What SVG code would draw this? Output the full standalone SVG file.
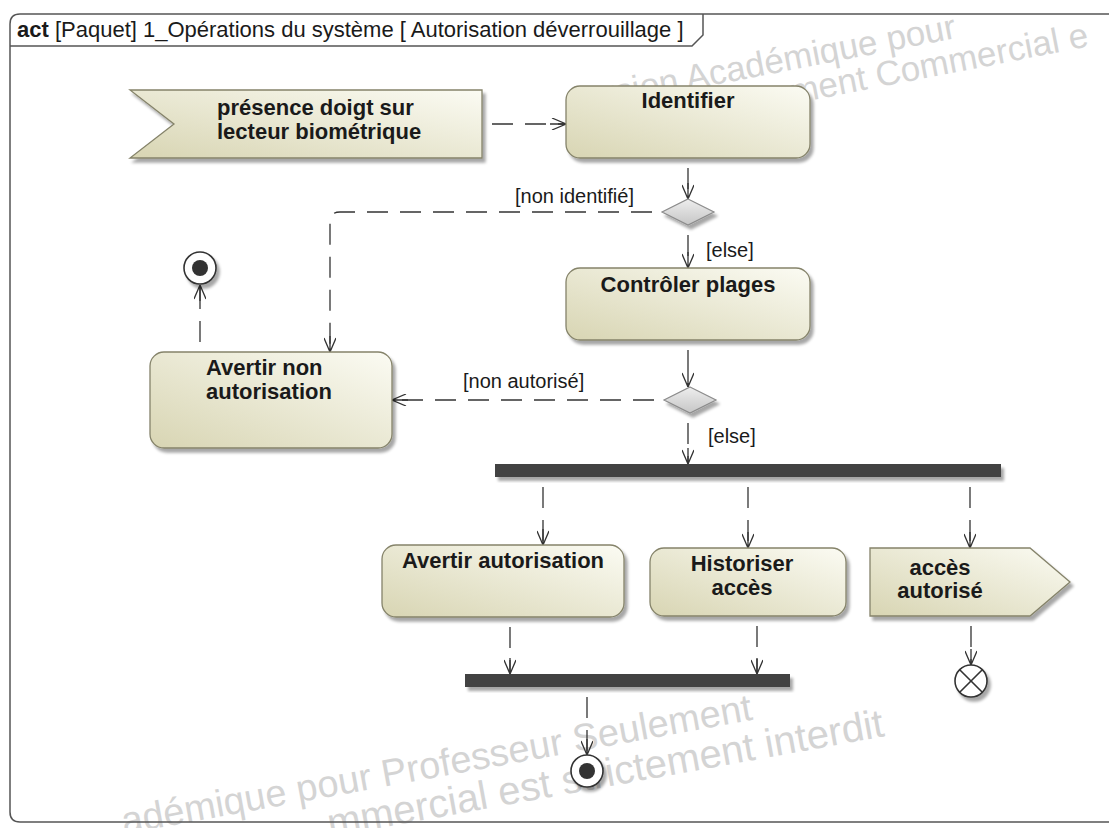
<svg xmlns="http://www.w3.org/2000/svg" width="1109" height="828" viewBox="0 0 1109 828">
  <style>
    .node-txt { font-family: "Liberation Sans", Arial, sans-serif; font-size: 22px; font-weight: bold; fill: #1a1a1a; }
    .lbl { font-family: "Liberation Sans", Arial, sans-serif; font-size: 20px; fill: #1a1a1a; }
    .title { font-family: "Liberation Sans", Arial, sans-serif; font-size: 22px; fill: #1a1a1a; }
    .wm { font-family: "Liberation Sans", Arial, sans-serif; fill: #d4d4d4; }
    .action { fill: url(#actFill); stroke: #85836a; stroke-width: 1.3; filter: url(#shadow); }
    .decision { fill: url(#decFill); stroke: #8c8c8c; stroke-width: 1.2; filter: url(#shadow); }
    .bar { fill: #424242; filter: url(#shadow); }
    .flow { fill: none; stroke: #333; stroke-width: 1.3; stroke-dasharray: 21 12; stroke-dashoffset: 23; marker-end: url(#arrow); }
    .ring { fill: #fff; stroke: #333; stroke-width: 1.6; filter: url(#shadow); }
    .dot { fill: #333; }
  </style>
  <defs>
    <linearGradient id="actFill" x1="1" y1="0" x2="0" y2="1">
      <stop offset="0" stop-color="#fbfbf3"/>
      <stop offset="1" stop-color="#d8d5b3"/>
    </linearGradient>
    <linearGradient id="decFill" x1="0" y1="0" x2="0" y2="1">
      <stop offset="0" stop-color="#eeeeee"/>
      <stop offset="1" stop-color="#c6c6c6"/>
    </linearGradient>
    <filter id="shadow" x="-20%" y="-20%" width="150%" height="160%">
      <feGaussianBlur in="SourceAlpha" stdDeviation="1.5"/>
      <feOffset dx="3" dy="4" result="b"/>
      <feComponentTransfer><feFuncA type="linear" slope="0.35"/></feComponentTransfer>
      <feMerge><feMergeNode/><feMergeNode in="SourceGraphic"/></feMerge>
    </filter>
    <marker id="arrow" viewBox="0 0 16 12" refX="16" refY="6" markerWidth="16" markerHeight="12" markerUnits="userSpaceOnUse" orient="auto">
      <path d="M2,0 L16,6 L2,12 M0,6 L16,6" fill="none" stroke="#333" stroke-width="1.3"/>
    </marker>
  </defs>

  <rect width="1109" height="828" fill="#fff"/>

  <!-- background watermark, drawn under the nodes -->
  <g id="watermark" class="wm">
    <text font-size="35" transform="translate(606,106) rotate(-11)">rsion Académique pour</text>
    <text font-size="35" transform="translate(792,104) rotate(-11)">ment Commercial e</text>
    <text font-size="38" transform="translate(124,834) rotate(-10.3)">adémique pour Professeur Seulement</text>
    <text font-size="40" transform="translate(330,837) rotate(-10.3)">mmercial est strictement interdit</text>
  </g>

  <!-- diagram frame -->
  <g id="frame" fill="none" stroke="#555" stroke-width="1.5">
    <path d="M1109,14 H20 Q10,14 10,24 V812 Q10,822 20,822 H1109"/>
    <path d="M10,46 H692 L703,35 V14"/>
  </g>
  <text class="title" x="17" y="37"><tspan font-weight="bold">act</tspan> [Paquet] 1_Opérations du système [ Autorisation déverrouillage ]</text>

  <!-- control flows -->
  <g id="connectors">
    <path class="flow" d="M482,124 H566"/>
    <path class="flow" d="M688,158 V199"/>
    <path class="flow" d="M662,212 H340 Q330,212 330,222 V352"/>
    <path class="flow" d="M688,225 V268"/>
    <path class="flow" d="M688,340 V387"/>
    <path class="flow" d="M664,400 H392"/>
    <path class="flow" d="M688,413 V464"/>
    <path class="flow" d="M200,352 V285"/>
    <path class="flow" d="M543,477 V545"/>
    <path class="flow" d="M748,477 V548"/>
    <path class="flow" d="M970,477 V548"/>
    <path class="flow" d="M510,617 V674"/>
    <path class="flow" d="M757,616 V674"/>
    <path class="flow" d="M971,616 V665"/>
    <path class="flow" d="M587,687 V755"/>
    <text class="lbl" x="515" y="203">[non identifié]</text>
    <text class="lbl" x="706" y="257">[else]</text>
    <text class="lbl" x="463" y="388">[non autorisé]</text>
    <text class="lbl" x="708" y="443">[else]</text>
  </g>

  <g id="sig_presence">
    <polygon class="action" points="130,90 482,90 482,158 130,158 174,124"/>
    <text class="node-txt" x="217" y="115">présence doigt sur</text>
    <text class="node-txt" x="217" y="139">lecteur biométrique</text>
  </g>

  <g id="act_identifier">
    <rect class="action" x="566" y="86" width="244" height="72" rx="14"/>
    <text class="node-txt" x="688" y="108" text-anchor="middle">Identifier</text>
  </g>

  <g id="dec_identifie">
    <polygon class="decision" points="688,199 714,212 688,225 662,212"/>
  </g>

  <g id="act_controler">
    <rect class="action" x="566" y="268" width="244" height="72" rx="14"/>
    <text class="node-txt" x="688" y="292" text-anchor="middle">Contrôler plages</text>
  </g>

  <g id="dec_autorise">
    <polygon class="decision" points="690,387 716,400 690,413 664,400"/>
  </g>

  <g id="act_avertir_non">
    <rect class="action" x="150" y="352" width="242" height="96" rx="14"/>
    <text class="node-txt" x="206" y="375">Avertir non</text>
    <text class="node-txt" x="206" y="399">autorisation</text>
  </g>

  <g id="final_refus">
    <circle class="ring" cx="200" cy="268" r="16"/>
    <circle class="dot" cx="200" cy="268" r="8"/>
  </g>

  <g id="fork">
    <rect class="bar" x="495" y="464" width="506" height="13"/>
  </g>

  <g id="act_avertir_aut">
    <rect class="action" x="382" y="545" width="242" height="72" rx="14"/>
    <text class="node-txt" x="503" y="568" text-anchor="middle">Avertir autorisation</text>
  </g>

  <g id="act_historiser">
    <rect class="action" x="650" y="548" width="196" height="68" rx="14"/>
    <text class="node-txt" x="742" y="571" text-anchor="middle">Historiser</text>
    <text class="node-txt" x="742" y="595" text-anchor="middle">accès</text>
  </g>

  <g id="sig_acces">
    <polygon class="action" points="870,548 1030,548 1070,582 1030,616 870,616"/>
    <text class="node-txt" x="940" y="575" text-anchor="middle">accès</text>
    <text class="node-txt" x="940" y="598" text-anchor="middle">autorisé</text>
  </g>

  <g id="join">
    <rect class="bar" x="465" y="674" width="325" height="13"/>
  </g>

  <g id="flow_final">
    <circle class="ring" cx="971" cy="681" r="16"/>
    <path d="M959.7,669.7 L982.3,692.3 M982.3,669.7 L959.7,692.3" stroke="#333" stroke-width="1.6"/>
  </g>

  <g id="final_ok">
    <circle class="ring" cx="587" cy="771" r="16"/>
    <circle class="dot" cx="587" cy="771" r="8"/>
  </g>
</svg>
